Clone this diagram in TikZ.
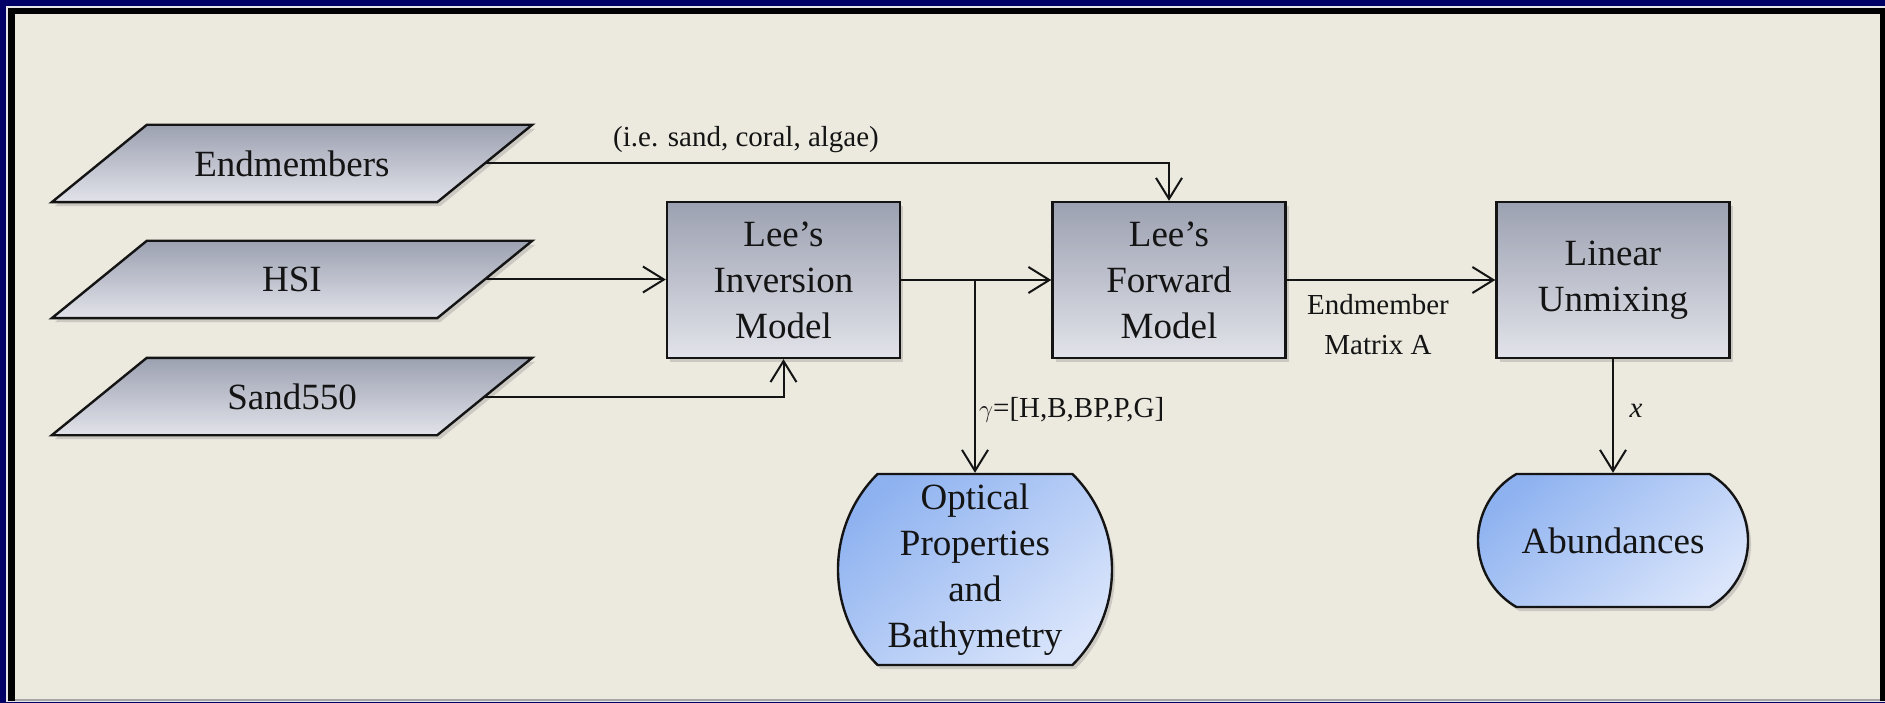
\documentclass[tikz,border=0pt]{standalone}
\usepackage{fontspec}
\setmainfont{Liberation Serif}
\usetikzlibrary{arrows.meta,shapes.misc,shadows,backgrounds,calc}
\pgfdeclarelayer{panel}
\pgfsetlayers{panel,background,main}

\definecolor{navy}{RGB}{0,0,102}
\definecolor{cream}{RGB}{236,234,223}
\definecolor{boxtop}{RGB}{156,161,177}
\definecolor{boxbot}{RGB}{226,227,234}
\definecolor{blueL}{RGB}{142,178,240}
\definecolor{blueR}{RGB}{218,229,251}
\definecolor{ink}{RGB}{20,20,20}

% parallelogram drawn behind a (borderless) data node
\newcommand\ioshape[1]{%
  \begin{pgfonlayer}{background}
    \path[shadebox] ([xshift=47.5pt]#1.north west) -- ([xshift=47.5pt]#1.north east)
      -- ([xshift=-47.5pt]#1.south east) -- ([xshift=-47.5pt]#1.south west) -- cycle;
  \end{pgfonlayer}}

\begin{document}
\begin{tikzpicture}[x=1pt,y=-1pt,
  bigfont/.style={font=\fontsize{37}{46}\selectfont},
  smallfont/.style={font=\fontsize{29}{40}\selectfont},
  softshadow/.style={drop shadow={opacity=0.3,shadow xshift=3pt,shadow yshift=-4pt}},
  shadebox/.style={top color=boxtop,bottom color=boxbot,draw=ink,line width=2.4pt,softshadow},
  iobox/.style={bigfont,minimum width=385pt,minimum height=77pt,inner sep=0pt,text=ink},
  procbox/.style={shadebox,bigfont,align=center,minimum width=233pt,minimum height=156pt,inner sep=0pt,text=ink},
  termbox/.style={rounded rectangle,top color=blueL,bottom color=blueR,shading angle=40,draw=ink,line width=2.4pt,softshadow,
    bigfont,align=center,inner sep=0pt,text=ink},
  conn/.style={draw=ink,line width=2pt,-{Straight Barb[length=21pt,width=26pt]}},
  lbl/.style={smallfont,text=ink,inner sep=0pt,align=center}
]
\useasboundingbox (0,0) rectangle (1885,703);

% frame and panel
\begin{pgfonlayer}{panel}
  \fill[navy] (0,0) rectangle (1885,703);
  \fill[white!80!gray] (6,6) rectangle (1885,701.5);
  \fill[black] (8,8) rectangle (1885,700.5);
  \fill[gray!70] (15,14) rectangle (1880,700.5);
  \fill[cream] (15,14) rectangle (1880,699);
\end{pgfonlayer}

% inputs
\node[iobox] (em)  at (292,163.5) {Endmembers};
\node[iobox] (hsi) at (292,279.5) {HSI};
\node[iobox] (sa)  at (292,396.5) {Sand550};
\ioshape{em}\ioshape{hsi}\ioshape{sa}

% processing steps
\node[procbox] (inv) at (783.5,280) {Lee’s\\Inversion\\Model};
\node[procbox] (fwd) at (1169,280)  {Lee’s\\Forward\\Model};
\node[procbox] (lin) at (1613,280)  {Linear\\Unmixing};

% outputs
\node[termbox,rounded rectangle arc length=90,minimum width=274pt,minimum height=191pt] (opt) at (975,569.5)
  {Optical\\Properties\\and\\Bathymetry};
\node[termbox,rounded rectangle arc length=120,minimum width=270pt,minimum height=133pt] (abd) at (1613,540.5)
  {Abundances};

% connectors
\coordinate (br) at (inv.east -| opt.north);
\draw[conn] (em.east) -| (fwd.north);
\draw[conn] (hsi.east) -- (hsi.east -| inv.west);
\draw[conn] (sa.east) -| (inv.south);
\draw[conn] (inv.east) -- (fwd.west);
\draw[conn] (br) -- (opt.north);
\draw[conn] (fwd.east) -- (lin.west);
\draw[conn] (lin.south) -- (abd.north);

% labels
\node[lbl] (eglbl) at (746,140) {(i.e. sand, coral, algae)};
\node[lbl,anchor=west] (gam) at (979,410) {$\gamma$=[H,B,BP,P,G]};
\node[lbl] (mat) at (1378,325) {Endmember\\Matrix A};
\node[lbl] (xl) at (1636,411) {\textit{x}};
\end{tikzpicture}
\end{document}
